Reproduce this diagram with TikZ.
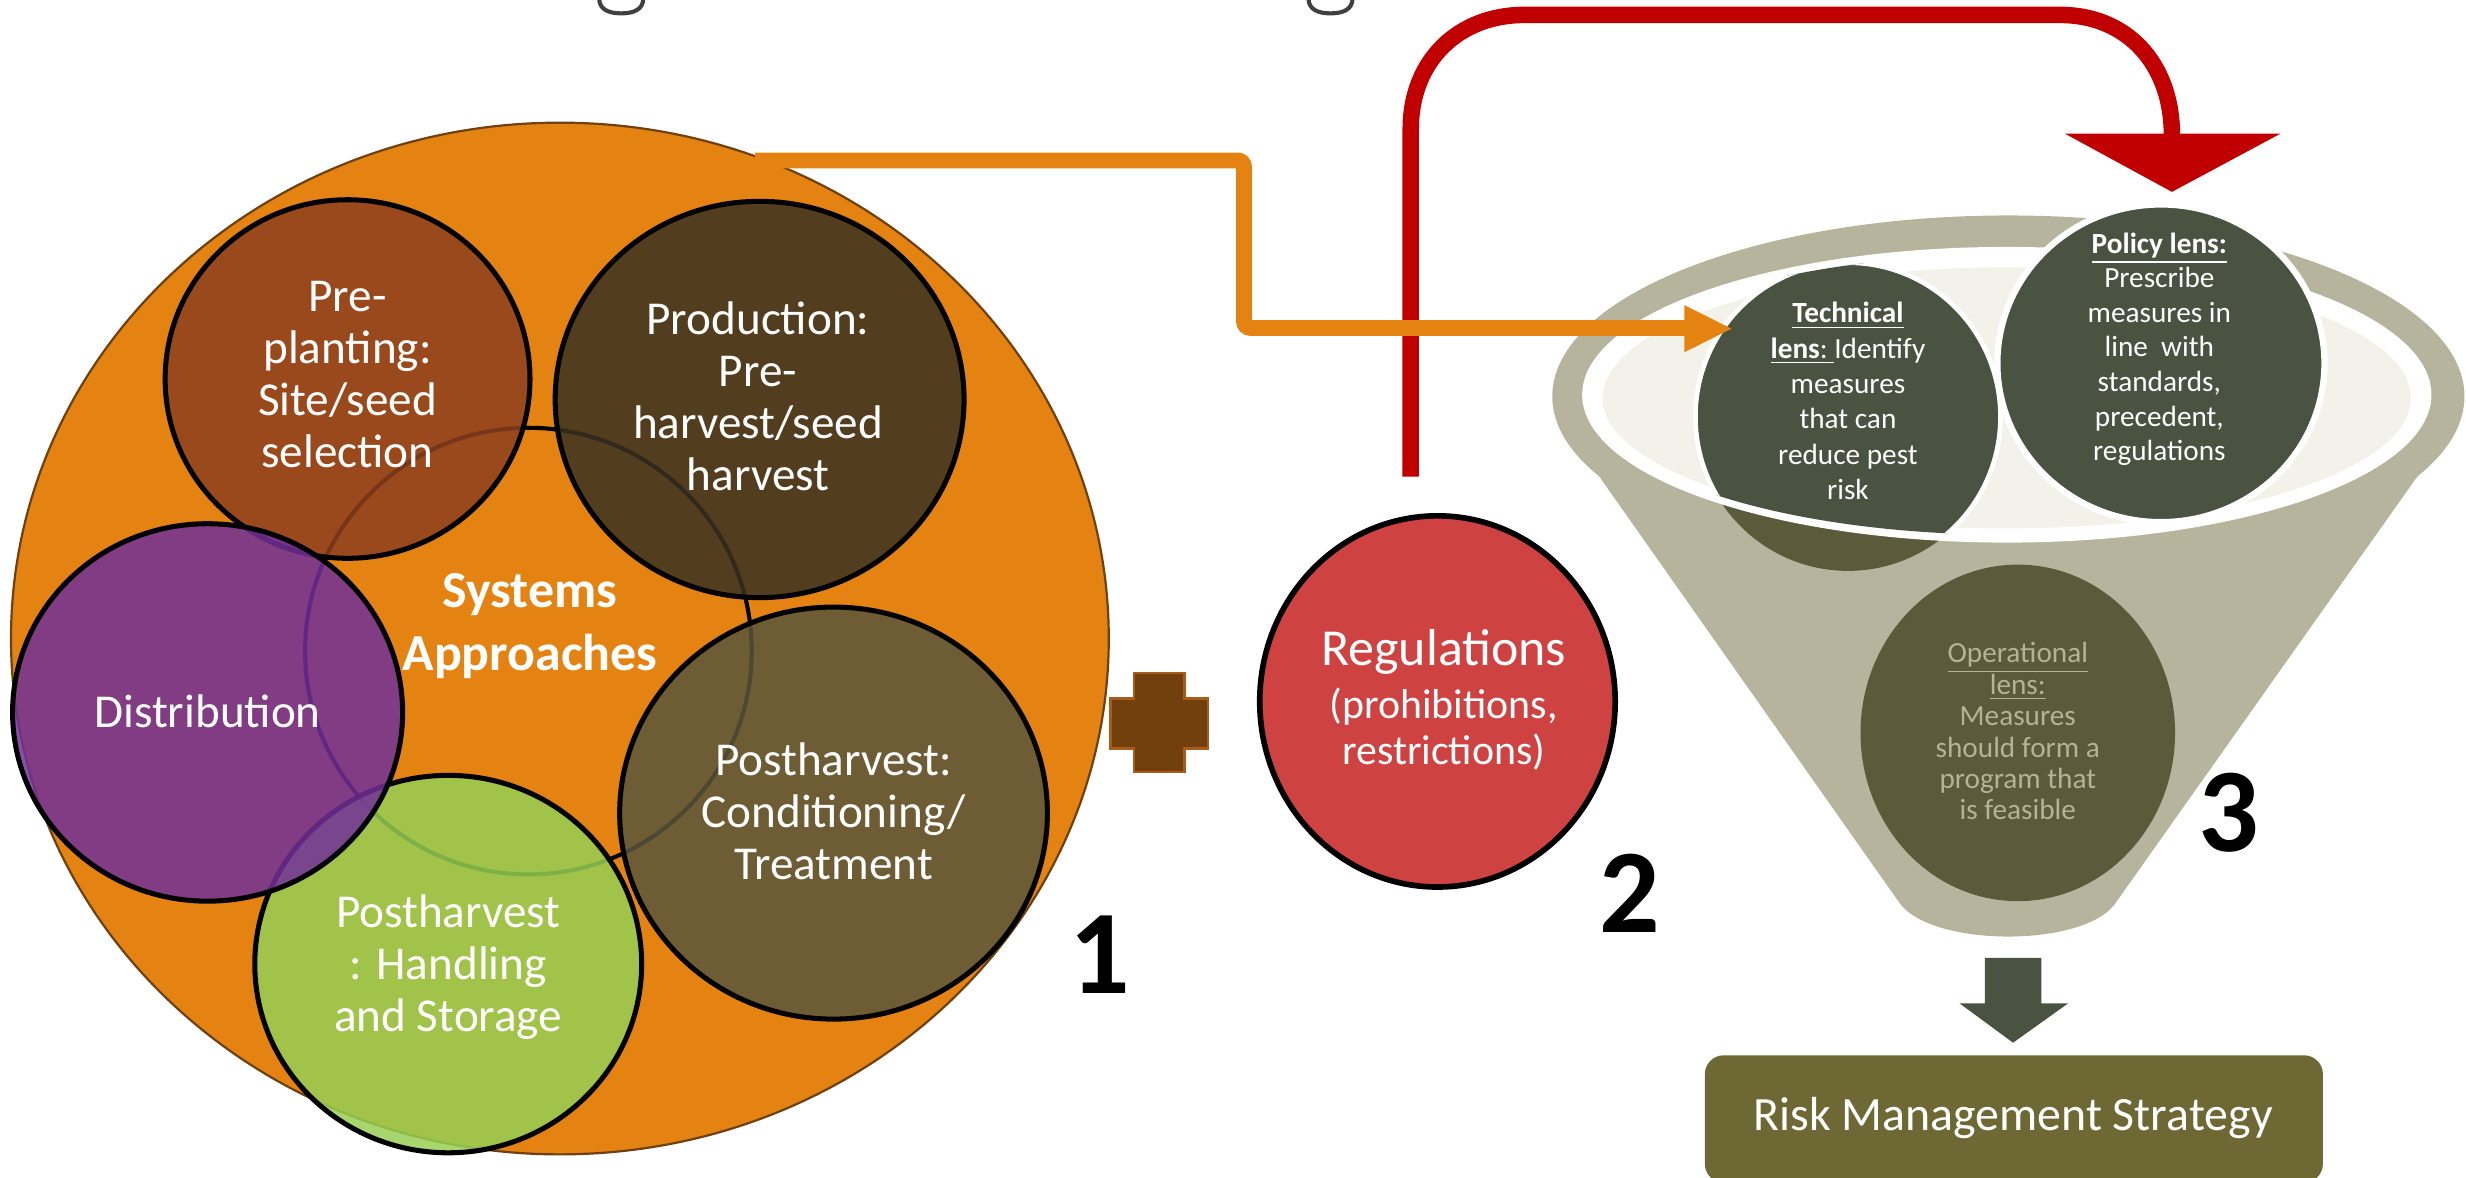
\documentclass[tikz,border=0pt]{standalone}
\usepackage{fontspec}
\setmainfont{Carlito}
\definecolor{orng}{RGB}{228,131,18}
\definecolor{orngline}{RGB}{110,65,15}
\definecolor{prebrown}{RGB}{142,64,30}
\definecolor{prodbrown}{RGB}{57,49,33}
\definecolor{condbrown}{RGB}{89,86,58}
\definecolor{greenc}{RGB}{150,207,83}
\definecolor{purplec}{RGB}{114,48,153}
\definecolor{regred}{RGB}{207,66,66}
\definecolor{plusfill}{RGB}{113,64,12}
\definecolor{plusline}{RGB}{168,92,28}
\definecolor{redc}{RGB}{192,0,0}
\definecolor{beige}{RGB}{183,180,157}
\definecolor{lightin}{RGB}{242,242,234}
\definecolor{lensdark}{RGB}{74,82,65}
\definecolor{oliveop}{RGB}{91,91,59}
\definecolor{optext}{RGB}{181,178,151}
\definecolor{riskolive}{RGB}{110,104,52}
\definecolor{titlegray}{RGB}{64,64,64}
\begin{document}
\begin{tikzpicture}[x=0.5pt,y=-0.5pt,
  circ/.style={draw=black, line width=1.6pt, fill opacity=0.85},
  bigtxt/.style={text=white, align=center, font=\fontsize{15}{16.5}\selectfont},
  lenstxt/.style={text=white, align=center, font=\fontsize{9.3}{11.25}\selectfont},
  numtxt/.style={font=\fontsize{38}{40}\selectfont\bfseries, text=black},
  titlefrag/.style={draw=titlegray, line width=1.3pt}
]
\useasboundingbox (0,0) rectangle (1568,749);
\clip (0,0) rectangle (1568,749);

% fragments of the cut-off title
\path[titlefrag] (381,-1) .. controls (381,6) and (387,8.5) .. (395,8.5) .. controls (403,8.5) and (409,6) .. (409,-1);
\path[titlefrag] (832,-1) .. controls (832,6) and (838,8.5) .. (846,8.5) .. controls (854,8.5) and (860,6) .. (860,-1);

% red arrow
\coordinate (redS) at (897,303);
\coordinate (redE) at (1381,86);
\draw[redc, line width=5.25pt] (redS) -- (897,82) .. controls (897,38) and (928,9.5) .. (969,9.5) -- (1310,9.5) .. controls (1352,9.5) and (1381,40) .. (redE);
\fill[redc] (1313,85) -- (1450,85) -- (1381,122) -- cycle;

% big orange ellipse
\path[fill=orng, draw=orngline, line width=0.7pt] (356,406) ellipse [x radius=349, y radius=328];
% central systems circle outline
\draw[black, line width=1.3pt] (336,414) circle [radius=142];

% stage circles
\path[circ, fill=prebrown] (221,241) ellipse [x radius=116, y radius=114];
\path[circ, fill=prodbrown] (483,254) ellipse [x radius=130, y radius=126];
\path[circ, fill=condbrown] (530,517) ellipse [x radius=136, y radius=131];
\path[circ, fill=greenc] (285,613) ellipse [x radius=123, y radius=120];
\path[circ, fill=purplec] (132,453) ellipse [x radius=124, y radius=120];

\node[bigtxt] (pre) at (221,238) {Pre-\\planting:\\Site/seed\\selection};
\node[bigtxt] (prod) at (482,252) {Production:\\Pre-\\harvest/seed\\harvest};
\node[bigtxt] (dist) at (132,452) {Distribution};
\node[bigtxt] (cond) at (530,516) {Postharvest:\\Conditioning/\\Treatment};
\node[bigtxt] (hand) at (285,615) {Postharvest\\: Handling\\and Storage};
\node[text=white, align=center, font=\fontsize{16.5}{20}\selectfont\bfseries] (sys) at (337,398) {Systems\\Approaches};

% plus sign
\path[fill=plusfill, draw=plusline, line width=0.8pt] (721,428) -- (753,428) -- (753,444) -- (768,444) -- (768,476) -- (753,476) -- (753,491) -- (721,491) -- (721,476) -- (706,476) -- (706,444) -- (721,444) -- cycle;

% regulations
\path[fill=regred, draw=black, line width=1.8pt] (914,446) ellipse [x radius=113, y radius=118];
\node[text=white, align=center, font=\fontsize{13.3}{14.5}\selectfont] (reg) at (918,445) {{\fontsize{16.5}{17}\selectfont Regulations}\\[2.5pt](prohibitions,\\restrictions)};

% funnel
\fill[beige] (1277,252) ellipse [x radius=290, y radius=115];
\fill[beige] (988,262) -- (1566,262) -- (1346,573) .. controls (1328,603) and (1226,603) .. (1207,573) -- cycle;
\fill[oliveop] (1283,466) ellipse [x radius=100, y radius=107];
\fill[oliveop] (1175,265) ellipse [x radius=97, y radius=98];
\fill[white] (1276,251) ellipse [x radius=270, y radius=94];
\fill[lightin] (1276,253) ellipse [x radius=257, y radius=83];
\begin{scope}
  \clip (1276,251) ellipse [x radius=265, y radius=89];
  \path[fill=lensdark, draw=white, line width=1.5pt] (1175,265) ellipse [x radius=97, y radius=98];
\end{scope}
\path[fill=lensdark, draw=white, line width=2pt] (1374,231) ellipse [x radius=104, y radius=101];

\node[lenstxt] (tech) at (1175,255) {\underline{\textbf{Technical}}\\\underline{\textbf{lens}:\ }Identify\\measures\\that can\\reduce pest\\risk};
\node[lenstxt, font=\fontsize{9.3}{11}\selectfont] (policy) at (1373,222) {\underline{\textbf{Policy lens:}}\\Prescribe\\measures in\\line\ \ with\\standards,\\precedent,\\regulations};
\node[lenstxt, text=optext, font=\fontsize{9.3}{10}\selectfont] (oper) at (1283,465) {\underline{Operational}\\\underline{lens:}\\Measures\\should form a\\program that\\is feasible};

% orange arrow
\coordinate (oS) at (480,102);
\coordinate (oE) at (1072,208.5);
\draw[orng, line width=5pt, rounded corners=2pt] (oS) -- (791,102) -- (791,208.5) -- (oE);
\fill[orng] (1071,194) -- (1101,209) -- (1071,224) -- cycle;

% down arrow and result box
\fill[lensdark] (1262,609) -- (1298,609) -- (1298,638) -- (1315,638) -- (1280,663) -- (1246,638) -- (1262,638) -- cycle;
\path[fill=riskolive, rounded corners=6pt] (1084,671) rectangle (1477,752);
\node[text=white, font=\fontsize{15.2}{17}\selectfont] (risk) at (1280,711) {Risk Management Strategy};

% numbers
\node[numtxt] (n1) at (699,607) {1};
\node[numtxt] (n2) at (1036,568) {2};
\node[numtxt] (n3) at (1417,517) {3};
\end{tikzpicture}
\end{document}
